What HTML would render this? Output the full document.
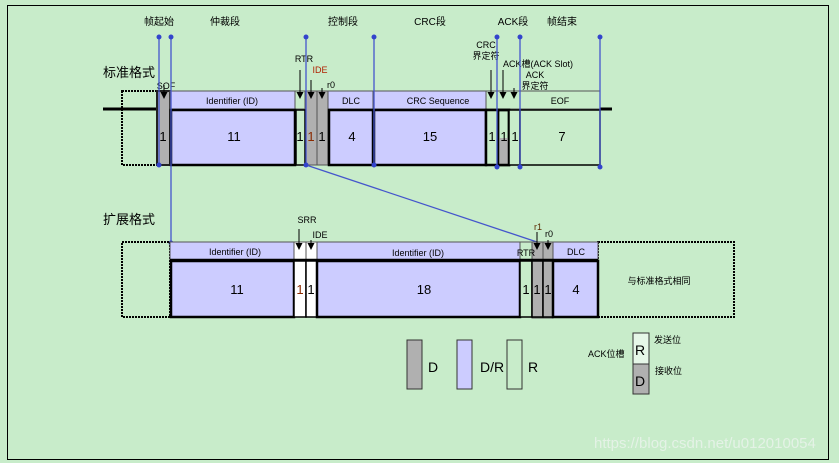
<!DOCTYPE html><html><head><meta charset="utf-8"><style>
body{margin:0;background:#c8ecca}
svg{display:block}
text{font-family:"Liberation Sans","Noto Sans CJK SC",sans-serif}
</style></head><body>
<svg width="839" height="463" viewBox="0 0 839 463" xmlns="http://www.w3.org/2000/svg">
<rect x="0" y="0" width="839" height="463" fill="#c8ecca"/>
<rect x="7.5" y="5.5" width="821" height="454" fill="none" stroke="#000" stroke-width="1"/>
<defs><marker id="a" markerWidth="7" markerHeight="7" refX="3.5" refY="6" orient="0" markerUnits="userSpaceOnUse"><path d="M0,0 L7,0 L3.5,7 Z" fill="#000"/></marker></defs>

<g fill="#000">
<g font-size="10" text-anchor="middle">
<text x="159" y="25">帧起始</text><text x="225" y="25">仲裁段</text><text x="343" y="25">控制段</text>
<text x="430" y="25">CRC段</text><text x="513" y="25">ACK段</text><text x="562" y="25">帧结束</text>
</g>
<text x="103" y="77" font-size="13">标准格式</text>
<text x="103" y="224" font-size="13">扩展格式</text>
</g>

<!-- standard row -->
<line x1="103" y1="109" x2="612" y2="109" stroke="#000" stroke-width="3"/>
<rect x="122" y="91" width="35" height="74" fill="none" stroke="#000" stroke-width="2" stroke-dasharray="2,1"/>
<g stroke="#555" stroke-width="1">
<rect x="157" y="91" width="13" height="74" fill="#b0b0b0" stroke="#222" stroke-width="2"/>
<rect x="170" y="91" width="125" height="18" fill="#ccccff"/>
<rect x="295" y="91" width="10" height="18" fill="#c8ecca"/>
<rect x="305" y="91" width="12" height="74" fill="#b0b0b0"/>
<rect x="317" y="91" width="11" height="74" fill="#b0b0b0"/>
<rect x="328" y="91" width="45" height="18" fill="#ccccff"/>
<rect x="373" y="91" width="113" height="18" fill="#ccccff"/>
<rect x="486" y="91" width="34" height="18" fill="#c8ecca"/>
<rect x="520" y="91" width="80" height="18" fill="#c8ecca"/>
</g>
<g stroke="#000" stroke-width="2.5">
<rect x="171" y="110" width="124" height="55" fill="#ccccff"/>
<rect x="296" y="110" width="9" height="55" fill="#c8ecca" stroke-width="1.5"/>
<rect x="329" y="110" width="44" height="55" fill="#ccccff"/>
<rect x="374" y="110" width="112" height="55" fill="#ccccff"/>
<rect x="486" y="110" width="12" height="55" fill="#c8ecca"/>
<rect x="498" y="110" width="11" height="55" fill="#c8ecca"/>
<rect x="498" y="138" width="11" height="27" fill="#b0b0b0" stroke="none"/>
<rect x="498" y="110" width="11" height="55" fill="none"/>
<rect x="509" y="110" width="11" height="55" fill="#c8ecca" stroke-width="1.5"/>
<rect x="520" y="110" width="80" height="55" fill="#c8ecca" stroke-width="1.5"/>
</g>
<g font-size="13" text-anchor="middle" fill="#000">
<text x="163" y="141">1</text><text x="234" y="141">11</text><text x="300" y="141">1</text>
<text x="311" y="141" fill="#8a2a00">1</text><text x="322" y="141">1</text><text x="352" y="141">4</text>
<text x="430" y="141">15</text><text x="492" y="141">1</text><text x="504" y="141">1</text><text x="515" y="141">1</text><text x="562" y="141">7</text>
</g>
<g font-size="9" text-anchor="middle" fill="#000">
<text x="232" y="104">Identifier (ID)</text><text x="351" y="104">DLC</text><text x="438" y="104">CRC Sequence</text><text x="560" y="104">EOF</text>
<text x="166" y="89">SOF</text>
<text x="304" y="62">RTR</text><text x="320" y="73" fill="#b02000">IDE</text><text x="331" y="88">r0</text>
<text x="486" y="48">CRC</text><text x="486" y="59">界定符</text>
<text x="538" y="67">ACK槽(ACK Slot)</text>
<text x="535" y="78">ACK</text><text x="535" y="89">界定符</text>
</g>
<g stroke="#000" stroke-width="1" marker-end="url(#a)">
<line x1="164" y1="85" x2="164" y2="98"/>
<line x1="300" y1="70" x2="300" y2="98"/>
<line x1="311" y1="80" x2="311" y2="98"/>
<line x1="322" y1="88" x2="322" y2="98"/>
<line x1="491" y1="70" x2="491" y2="98"/>
<line x1="503" y1="70" x2="503" y2="98"/>
<line x1="514" y1="88" x2="514" y2="98"/>
</g>

<g stroke="#4455cc" stroke-width="1.3">
<line x1="159" y1="37" x2="159" y2="165"/>
<line x1="171" y1="37" x2="171" y2="243"/>
<line x1="306" y1="37" x2="306" y2="165"/>
<line x1="374" y1="37" x2="374" y2="165"/>
<line x1="497" y1="37" x2="497" y2="167"/>
<line x1="520" y1="37" x2="520" y2="167"/>
<line x1="600" y1="37" x2="600" y2="167"/>
<line x1="306" y1="165" x2="540" y2="243"/>
</g>
<g fill="#3344cc">
<circle cx="159" cy="37" r="2.5"/><circle cx="171" cy="37" r="2.5"/><circle cx="306" cy="37" r="2.5"/><circle cx="374" cy="37" r="2.5"/>
<circle cx="497" cy="37" r="2.5"/><circle cx="520" cy="37" r="2.5"/><circle cx="600" cy="37" r="2.5"/>
<circle cx="159" cy="165" r="2.5"/><circle cx="306" cy="165" r="2.5"/><circle cx="374" cy="165" r="2.5"/>
<circle cx="497" cy="167" r="2.5"/><circle cx="520" cy="167" r="2.5"/><circle cx="600" cy="167" r="2.5"/>
<circle cx="171" cy="243" r="2.5"/>
</g>

<!-- extended row -->
<rect x="122" y="242" width="48" height="75" fill="none" stroke="#000" stroke-width="2" stroke-dasharray="2,1"/>
<rect x="598" y="242" width="136" height="75" fill="none" stroke="#000" stroke-width="2" stroke-dasharray="2,1"/>
<g stroke="#555" stroke-width="1">
<rect x="170" y="242" width="124" height="18" fill="#ccccff"/>
<rect x="294" y="242" width="12" height="18" fill="#fff"/>
<rect x="306" y="242" width="11" height="18" fill="#fff"/>
<rect x="317" y="242" width="203" height="18" fill="#ccccff"/>
<rect x="520" y="242" width="12" height="18" fill="#c8ecca"/>
<rect x="532" y="242" width="11" height="76" fill="#b0b0b0"/>
<rect x="543" y="242" width="10" height="76" fill="#b0b0b0"/>
<rect x="553" y="242" width="45" height="18" fill="#ccccff"/>
</g>
<line x1="170" y1="260" x2="598" y2="260" stroke="#000" stroke-width="2.5"/>
<g stroke="#000" stroke-width="2.5">
<rect x="171" y="261" width="123" height="56" fill="#ccccff"/>
<rect x="294" y="261" width="12" height="56" fill="#fff" stroke-width="1.5"/>
<rect x="306" y="261" width="11" height="56" fill="#fff" stroke-width="1.5"/>
<rect x="317" y="261" width="203" height="56" fill="#ccccff"/>
<rect x="520" y="261" width="12" height="56" fill="#c8ecca" stroke-width="1.5"/>
<rect x="532" y="261" width="11" height="56" fill="#b0b0b0" stroke-width="1.5"/>
<rect x="543" y="261" width="10" height="56" fill="#b0b0b0" stroke-width="1.5"/>
<rect x="553" y="261" width="45" height="56" fill="#ccccff"/>
</g>
<g font-size="13" text-anchor="middle" fill="#000">
<text x="237" y="294">11</text><text x="300" y="294" fill="#8a2a00">1</text><text x="311" y="294">1</text>
<text x="424" y="294">18</text><text x="526" y="294">1</text><text x="537" y="294">1</text><text x="548" y="294">1</text><text x="576" y="294">4</text>
</g>
<g font-size="9" text-anchor="middle" fill="#000">
<text x="235" y="255">Identifier (ID)</text><text x="418" y="256">Identifier (ID)</text><text x="526" y="256">RTR</text><text x="576" y="255">DLC</text>
<text x="307" y="223">SRR</text><text x="320" y="238">IDE</text><text x="538" y="230" fill="#5a2a00">r1</text><text x="549" y="237">r0</text>
<text x="659" y="284">与标准格式相同</text>
</g>
<g stroke="#000" stroke-width="1" marker-end="url(#a)">
<line x1="299" y1="229" x2="299" y2="249"/>
<line x1="311" y1="240" x2="311" y2="249"/>
<line x1="537" y1="232" x2="537" y2="249"/>
<line x1="548" y1="240" x2="548" y2="249"/>
</g>

<g stroke="#333" stroke-width="1">
<rect x="407" y="340" width="15" height="49" fill="#b0b0b0"/>
<rect x="457" y="340" width="15" height="49" fill="#ccccff"/>
<rect x="507" y="340" width="15" height="49" fill="#c8ecca"/>
<rect x="633" y="333" width="16" height="31" fill="#e6f7e8"/>
<rect x="633" y="364" width="16" height="30" fill="#b0b0b0"/>
</g>
<g font-size="14" fill="#000">
<text x="428" y="372">D</text><text x="480" y="372">D/R</text><text x="528" y="372">R</text>
<text x="635" y="355">R</text><text x="635" y="386">D</text>
</g>
<g font-size="9" fill="#000"><text x="588" y="357">ACK位槽</text><text x="654" y="343">发送位</text><text x="655" y="374">接收位</text></g>
<text x="594" y="448" font-size="15" fill="#e4f2e6">https://blog.csdn.net/u012010054</text>
</svg>
</body></html>
